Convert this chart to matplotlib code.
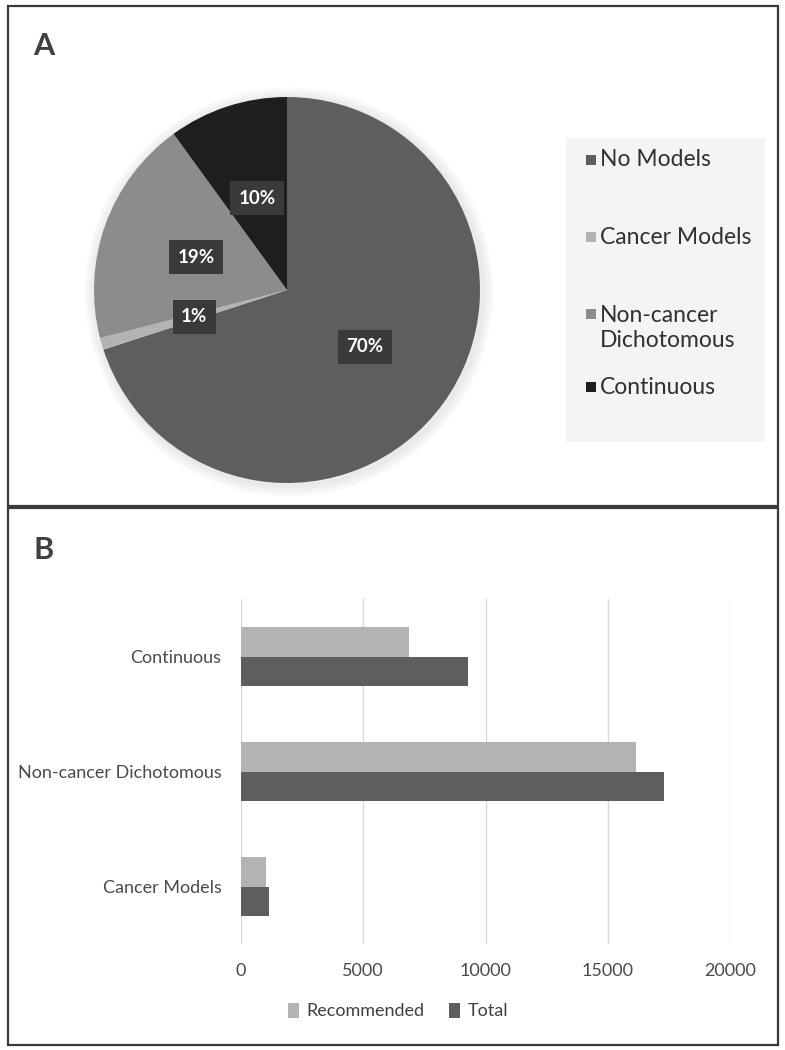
import matplotlib.pyplot as plt
from matplotlib.patches import Rectangle, Circle
import numpy as np

# Panel A: share of datasets by model type
pie_labels = ['No Models', 'Cancer Models', 'Non-cancer\nDichotomous', 'Continuous']
pie_values = [70, 1, 19, 10]
pie_colors = ['#5e5e5e', '#b3b3b3', '#8c8c8c', '#1e1e1e']

# Panel B: number of models, recommended vs total
bar_categories = ['Cancer Models', 'Non-cancer Dichotomous', 'Continuous']
recommended = [1030, 16150, 6870]
total = [1150, 17300, 9290]

plt.rcParams['font.family'] = ['Lato', 'DejaVu Sans']

W, H = 785, 1050
fig = plt.figure(figsize=(W / 100, H / 100), dpi=100)


def fbox(x0, y0, x1, y1):
    # pixel box (top-left origin) -> figure fraction rect
    return [x0 / W, 1 - y1 / H, (x1 - x0) / W, (y1 - y0) / H]


# panel frames
for (x0, y0, x1, y1) in [(8, 6, 778, 506), (8, 508, 778, 1045)]:
    fig.patches.append(Rectangle((x0 / W, 1 - y1 / H), (x1 - x0) / W, (y1 - y0) / H,
                                 transform=fig.transFigure, fill=False,
                                 edgecolor='#3a3a3a', lw=1.6))
fig.text(33 / W, 1 - 46 / H, 'A', fontsize=22, fontweight='bold', color='#404040', va='center')
fig.text(33 / W, 1 - 550 / H, 'B', fontsize=22, fontweight='bold', color='#404040', va='center')

# ---- pie ----
pad = 22
axp = fig.add_axes(fbox(94 - pad, 97 - pad, 480 + pad, 483 + pad))
lim = (193 + pad) / 193
# soft glow behind the pie
for k in range(7):
    axp.add_patch(Circle((0.01, -0.01), 1.0 + 0.008 * (k + 1), color='#000000', alpha=0.012, zorder=0))
wedges, texts, autotexts = axp.pie(pie_values, colors=pie_colors, startangle=90, counterclock=False,
                                   autopct='%d%%', pctdistance=0.5,
                                   wedgeprops=dict(linewidth=0),
                                   textprops=dict(color='white', fontsize=13.5, fontweight='bold'))
for t in autotexts:
    t.set_bbox(dict(boxstyle='square,pad=0.45', facecolor='#3a3a3a', edgecolor='none'))
axp.set_xlim(-lim, lim)
axp.set_ylim(-lim, lim)
axp.axis('off')

# legend background and entries
fig.patches.append(Rectangle((566 / W, 1 - 442 / H), 199 / W, 304 / H,
                             transform=fig.transFigure, facecolor='#f4f4f4', edgecolor='none'))
leg_y = [160, 237, 328, 387]
for lab, col, yy in zip(pie_labels, pie_colors, leg_y):
    sq_y = yy if '\n' not in lab else yy - 14
    fig.patches.append(Rectangle((586 / W, 1 - (sq_y + 5) / H), 10 / W, 10 / H,
                                 transform=fig.transFigure, facecolor=col, edgecolor='none'))
    fig.text(600 / W, 1 - yy / H, lab, fontsize=16.5, color='#303030', va='center',
             linespacing=1.25)

# ---- bars ----
axb = fig.add_axes(fbox(241, 599, 730, 944))
y = np.arange(len(bar_categories))
h = 0.26
axb.barh(y + h / 2, recommended, height=h, color='#b3b3b3', label='Recommended', zorder=3)
axb.barh(y - h / 2, total, height=h, color='#5e5e5e', label='Total', zorder=3)
axb.set_xlim(0, 20000)
axb.set_ylim(-0.5, 2.5)
axb.set_xticks([0, 5000, 10000, 15000, 20000])
axb.set_yticks(y)
axb.set_yticklabels(bar_categories)
axb.grid(axis='x', color='#d9d9d9', lw=1, zorder=0)
for s in axb.spines.values():
    s.set_visible(False)
axb.tick_params(length=0, labelsize=13, labelcolor='#4a4a4a')
axb.tick_params(axis='x', pad=14)
axb.tick_params(axis='y', pad=14)
fig.legend(loc='center', bbox_to_anchor=(398 / W, 1 - 1011 / H), ncol=2, frameon=False,
           fontsize=13, labelcolor='#404040', handlelength=0.6, handleheight=0.9,
           handletextpad=0.4, columnspacing=1.4)

fig.savefig('out.png', dpi=100, facecolor='white')
